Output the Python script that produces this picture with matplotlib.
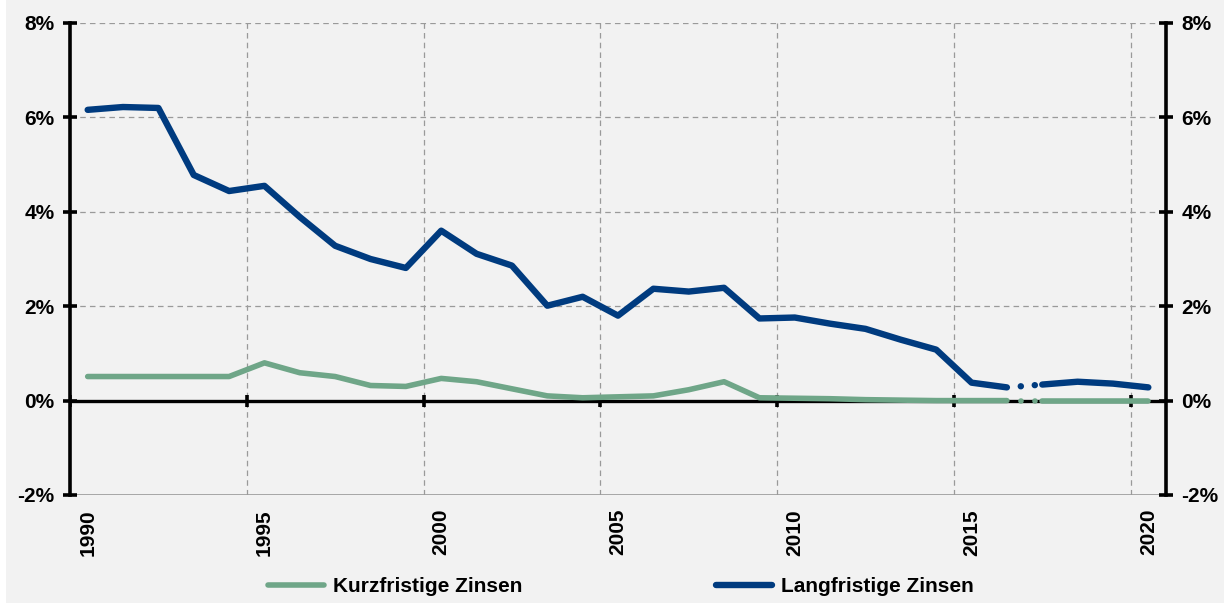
import matplotlib
matplotlib.use('Agg')
import matplotlib.pyplot as plt
from matplotlib.patches import Rectangle
from matplotlib.lines import Line2D

# Daten (Jahreswerte, in %)
years = list(range(1990, 2021))
long_rates = [6.16, 6.22, 6.20, 4.78, 4.44, 4.55, 3.89, 3.28, 3.00, 2.81,
              3.60, 3.11, 2.86, 2.01, 2.20, 1.80, 2.37, 2.31, 2.39, 1.74,
              1.76, 1.63, 1.52, 1.29, 1.08, 0.38, 0.28, 0.34, 0.40, 0.36,
              0.28]
short_rates = [0.51, 0.51, 0.51, 0.51, 0.51, 0.80, 0.59, 0.51, 0.32, 0.30,
               0.47, 0.40, 0.25, 0.10, 0.06, 0.08, 0.10, 0.23, 0.40, 0.06,
               0.05, 0.04, 0.02, 0.01, 0.00, 0.00, 0.00, 0.00, 0.00, 0.00,
               0.00]
gap_year = 2016  # Bruchstelle zwischen 2016 und 2017 (gepunktet)
y_ticks = [-2, 0, 2, 4, 6, 8]
y_labels = ['-2%', '0%', '2%', '4%', '6%', '8%']
x_label_years = [1990, 1995, 2000, 2005, 2010, 2015, 2020]
series_names = ['Kurzfristige Zinsen', 'Langfristige Zinsen']

GREEN = '#6fa688'
BLUE = '#003b7f'
GRID = '#9a9a9a'

plt.rcParams['font.family'] = ['Liberation Sans', 'DejaVu Sans']
plt.rcParams['font.weight'] = 'bold'
plt.rcParams['lines.scale_dashes'] = False

W, H = 1228, 605
fig = plt.figure(figsize=(W / 100, H / 100), dpi=100, facecolor='white')
fig.patches.append(Rectangle((6 / W, 1 - 603 / H), 1218 / W, 603 / H,
                             transform=fig.transFigure, facecolor='#f2f2f2',
                             edgecolor='none', zorder=-5))

ax = fig.add_axes([70 / W, 1 - 495 / H, (1166 - 70) / W, (495 - 23) / H])
ax.set_facecolor('none')

x = list(range(len(years)))
g = years.index(gap_year) + 1
n = len(years)
ax.set_xlim(-0.5, n - 0.5)
ax.set_ylim(-2, 8)

# Gitter
bounds = [b - 0.5 for b in range(5, n + 1, 5)]
for b in bounds:
    ax.axvline(b, color=GRID, lw=0.9, ls=(0, (4, 3)), zorder=1)
for t in y_ticks[2:]:
    ax.axhline(t, color=GRID, lw=0.9, ls=(0, (4, 3)), zorder=1)
ax.axhline(-2, color=GRID, lw=1.2, zorder=1)

# Nulllinie mit Markierungen
ax.axhline(0, color='black', lw=2.4, zorder=2)
ax.plot([-0.5] + bounds, [0] * (len(bounds) + 1), ls='none', marker='|',
        ms=9, mew=2.6, color='black', zorder=2)

# Linien
for vals, col, lw in [(short_rates, GREEN, 4.0), (long_rates, BLUE, 4.6)]:
    ax.plot(x[:g], vals[:g], color=col, lw=lw, solid_capstyle='round',
            solid_joinstyle='round', zorder=3)
    ax.plot(x[g:], vals[g:], color=col, lw=lw, solid_capstyle='round',
            solid_joinstyle='round', zorder=3)
    ax.plot(x[g - 1:g + 1], vals[g - 1:g + 1], color=col, lw=lw,
            ls=(0.1, (0.1, 10)), dash_capstyle='round', zorder=3)

# Achsen
for s in ['top', 'bottom']:
    ax.spines[s].set_visible(False)
for s in ['left', 'right']:
    ax.spines[s].set_linewidth(2.6)
ax.set_yticks(y_ticks)
ax.set_yticklabels(y_labels)
ax.tick_params(axis='y', which='both', direction='inout', length=10, width=2.6,
               left=True, right=True, labelleft=True, labelright=True,
               labelsize=15, pad=6)
ax.set_xticks([years.index(yr) for yr in x_label_years])
ax.set_xticklabels([str(yr) for yr in x_label_years], rotation=90,
                   fontsize=15)
ax.tick_params(axis='x', length=0, pad=10)

# Legende
handles = [Line2D([], [], color=GREEN, lw=4.0, solid_capstyle='round'),
           Line2D([], [], color=BLUE, lw=4.6, solid_capstyle='round')]
fig.legend(handles, series_names, loc='center', bbox_to_anchor=(621 / W, 1 - 587 / H),
           ncol=2, frameon=False, fontsize=15, handlelength=2.7,
           handletextpad=0.43, columnspacing=9.3)

fig.savefig('out.png', dpi=100, facecolor='white')
